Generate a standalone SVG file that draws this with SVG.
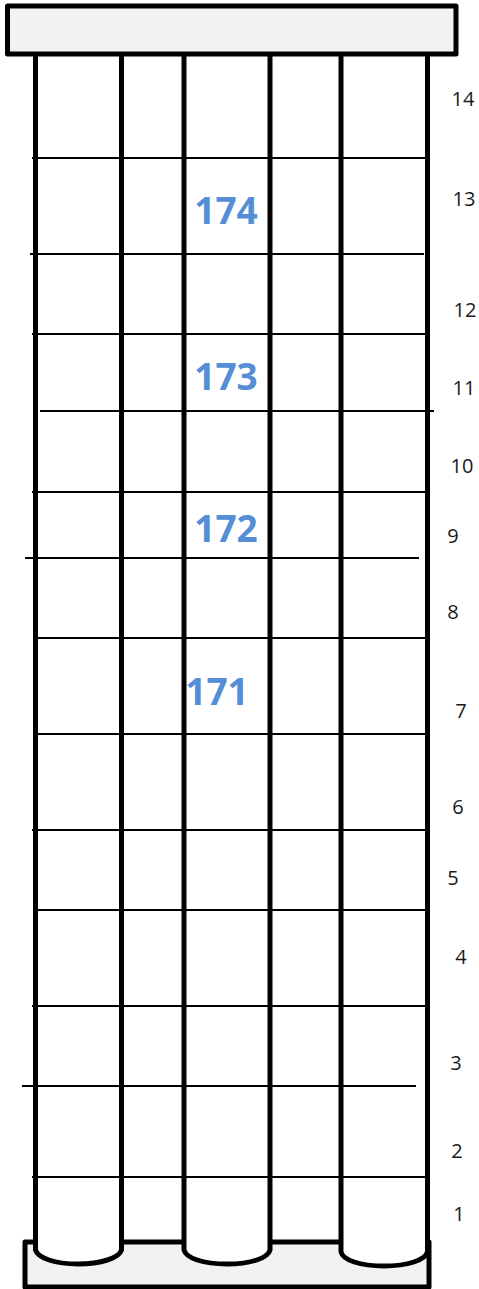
<svg xmlns="http://www.w3.org/2000/svg" width="479" height="1289" viewBox="0 0 479 1289">
<style>
.plate{fill:#f2f2f2;stroke:#000;stroke-width:5;stroke-linejoin:round}
.col{fill:#fff;stroke:#000;stroke-width:5;stroke-linejoin:round}
.level{stroke:#000;stroke-width:2;fill:none}
.n{font-family:"Open Sans",sans-serif;font-size:20px;fill:#1a1a1a;text-anchor:middle}
.b{font-family:"Open Sans",sans-serif;font-size:37px;font-weight:700;fill:#558ed5;text-anchor:middle}
</style>
<rect width="479" height="1289" fill="#fff"/>
<g id="base"><rect class="plate" x="25" y="1242" width="404" height="45"/></g>
<g id="column-1"><path class="col" d="M35.5 50V1250C38 1258 55 1264 78 1264S119 1258 121.500 1250V50Z"/></g>
<g id="column-2"><path class="col" d="M184 50V1250C186 1258 203 1264 227 1264S268 1258 270 1250V50Z"/></g>
<g id="column-3"><path class="col" d="M341 50V1252C343 1260 360 1266 384 1266S425 1260 427.500 1252V50Z"/></g>
<g id="top-plate"><rect class="plate" x="7.500" y="6" width="448.500" height="48"/></g>
<g id="connectors">
<line class="level" x1="32" y1="158" x2="427" y2="158"/>
<line class="level" x1="30" y1="254" x2="424" y2="254"/>
<line class="level" x1="32" y1="334" x2="427" y2="334"/>
<line class="level" x1="40" y1="411" x2="434" y2="411"/>
<line class="level" x1="32" y1="492" x2="427" y2="492"/>
<line class="level" x1="25" y1="558" x2="419" y2="558"/>
<line class="level" x1="36" y1="638" x2="427" y2="638"/>
<line class="level" x1="36" y1="734" x2="427" y2="734"/>
<line class="level" x1="32" y1="830" x2="427" y2="830"/>
<line class="level" x1="36" y1="910" x2="427" y2="910"/>
<line class="level" x1="32" y1="1006" x2="427" y2="1006"/>
<line class="level" x1="22" y1="1086" x2="416" y2="1086"/>
<line class="level" x1="32" y1="1177" x2="427" y2="1177"/>
</g>
<g id="labels">
<text class="b" x="226" y="224">174</text>
<text class="b" x="226" y="390">173</text>
<text class="b" x="226" y="542">172</text>
<text class="b" x="217" y="705">171</text>
<text class="n" x="463" y="106">14</text>
<text class="n" x="464" y="206">13</text>
<text class="n" x="465" y="317">12</text>
<text class="n" x="464" y="395">11</text>
<text class="n" x="462" y="473">10</text>
<text class="n" x="453" y="543">9</text>
<text class="n" x="453" y="619">8</text>
<text class="n" x="461" y="718">7</text>
<text class="n" x="458" y="814">6</text>
<text class="n" x="453" y="885">5</text>
<text class="n" x="461" y="964">4</text>
<text class="n" x="456" y="1070">3</text>
<text class="n" x="457" y="1158">2</text>
<text class="n" x="459" y="1221">1</text>
</g>
</svg>
